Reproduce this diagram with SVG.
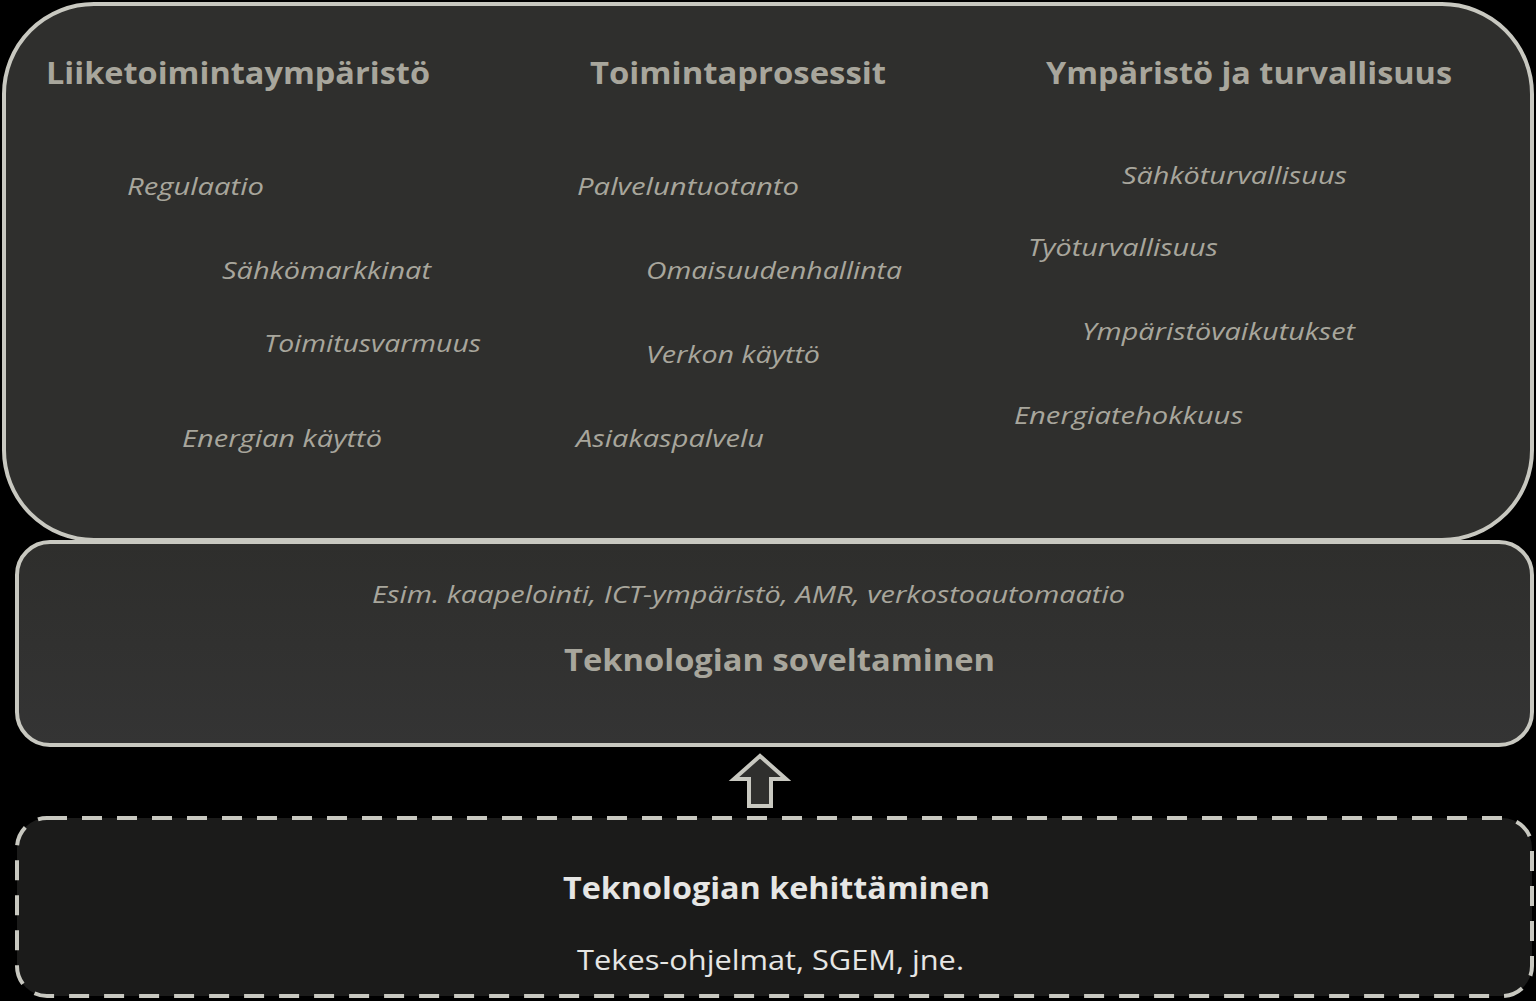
<svg xmlns="http://www.w3.org/2000/svg" width="1536" height="1001" viewBox="0 0 1536 1001">
<style>
.box{fill:#2f2f2d;stroke:#c8c8c0;stroke-width:4}
.dash{fill:#1b1b1a;stroke:#c8c8c0;stroke-width:4;stroke-dasharray:20 15}
.h{font-family:"Open Sans","Liberation Sans",sans-serif;font-weight:bold;font-size:30px;fill:#a8a69c}
.i{font-family:"Open Sans","Liberation Sans",sans-serif;font-style:italic;font-size:23px;fill:#a8a69c}
.hw{font-family:"Open Sans","Liberation Sans",sans-serif;font-weight:bold;font-size:30px;fill:#e6e6e4}
.w{font-family:"Open Sans","Liberation Sans",sans-serif;font-size:27px;fill:#e6e6e4}
</style>
<defs>
<linearGradient id="g" x1="0" y1="0" x2="0" y2="1">
<stop offset="0" stop-color="#2e2e2c"/>
<stop offset="1" stop-color="#343434"/>
</linearGradient>
</defs>
<rect x="0" y="0" width="1536" height="1001" fill="#000"/>
<g id="top">
<rect class="box" x="4" y="4" width="1528" height="536" rx="90" ry="90"/>
<text class="h" x="46" y="84" textLength="384" lengthAdjust="spacingAndGlyphs">Liiketoimintaympäristö</text>
<text class="h" x="590" y="84" textLength="296" lengthAdjust="spacingAndGlyphs">Toimintaprosessit</text>
<text class="h" x="1046" y="84" textLength="406" lengthAdjust="spacingAndGlyphs">Ympäristö ja turvallisuus</text>
<text class="i" x="127" y="195" textLength="137" lengthAdjust="spacingAndGlyphs">Regulaatio</text>
<text class="i" x="222" y="279" textLength="209" lengthAdjust="spacingAndGlyphs">Sähkömarkkinat</text>
<text class="i" x="264" y="352" textLength="217" lengthAdjust="spacingAndGlyphs">Toimitusvarmuus</text>
<text class="i" x="182" y="447" textLength="200" lengthAdjust="spacingAndGlyphs">Energian käyttö</text>
<text class="i" x="577" y="195" textLength="222" lengthAdjust="spacingAndGlyphs">Palveluntuotanto</text>
<text class="i" x="646" y="279" textLength="256" lengthAdjust="spacingAndGlyphs">Omaisuudenhallinta</text>
<text class="i" x="646" y="363" textLength="174" lengthAdjust="spacingAndGlyphs">Verkon käyttö</text>
<text class="i" x="576" y="447" textLength="188" lengthAdjust="spacingAndGlyphs">Asiakaspalvelu</text>
<text class="i" x="1122" y="184" textLength="225" lengthAdjust="spacingAndGlyphs">Sähköturvallisuus</text>
<text class="i" x="1028" y="256" textLength="190" lengthAdjust="spacingAndGlyphs">Työturvallisuus</text>
<text class="i" x="1082" y="340" textLength="273" lengthAdjust="spacingAndGlyphs">Ympäristövaikutukset</text>
<text class="i" x="1014" y="424" textLength="229" lengthAdjust="spacingAndGlyphs">Energiatehokkuus</text>
</g>
<g id="middle">
<rect x="17" y="542" width="1515" height="203" rx="33" ry="33" fill="url(#g)" stroke="#c8c8c0" stroke-width="4"/>
<text class="i" x="372" y="603" textLength="753" lengthAdjust="spacingAndGlyphs">Esim. kaapelointi, ICT-ympäristö, AMR, verkostoautomaatio</text>
<text class="h" x="564" y="671" textLength="431" lengthAdjust="spacingAndGlyphs">Teknologian soveltaminen</text>
</g>
<g id="bottom">
<rect class="dash" x="17" y="818" width="1515" height="178" rx="30" ry="30"/>
<text class="hw" x="563" y="899" textLength="427" lengthAdjust="spacingAndGlyphs">Teknologian kehittäminen</text>
<text class="w" x="577" y="970" textLength="387" lengthAdjust="spacingAndGlyphs">Tekes-ohjelmat,  SGEM,  jne.</text>
</g>
<g id="connectors">
<path d="M760 756 L786 779 L771 779 L771 806 L749 806 L749 779 L734 779 Z" fill="#2f2f2d" stroke="#c8c8c0" stroke-width="4" stroke-linejoin="miter"/>
</g>
</svg>
